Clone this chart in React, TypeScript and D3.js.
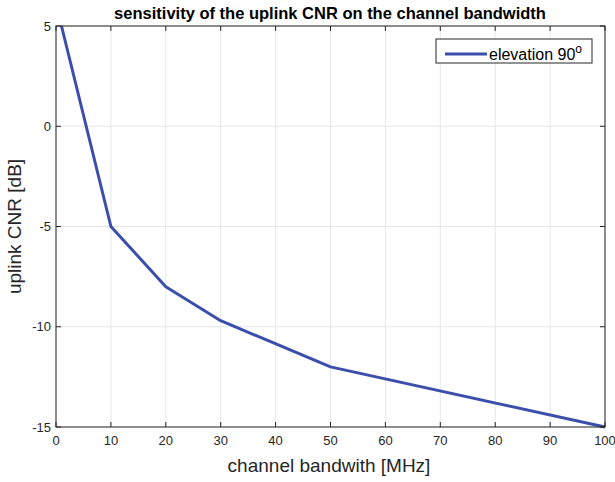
import React from "react";
import * as d3 from "d3";

// Uplink CNR versus channel bandwidth at 90° elevation
const bandwidth = [1, 10, 20, 30, 50, 100];
const cnr = [5, -5, -8, -9.7, -12, -15];
const xTicks = [0, 10, 20, 30, 40, 50, 60, 70, 80, 90, 100];
const yTicks = [-15, -10, -5, 0, 5];

const W = 615;
const H = 482;
const M = { left: 56, right: 605, top: 26, bottom: 427 };
const FONT = "'Liberation Sans', Arial, sans-serif";
const AXIS = "#262626";
const GRID = "#e6e6e6";
const LINE = "#3b4eab";

export default function App() {
  const x = d3.scaleLinear().domain([0, 100]).range([M.left, M.right]);
  const y = d3.scaleLinear().domain([-15, 5]).range([M.bottom, M.top]);
  const pts: [number, number][] = bandwidth.map((b, i) => [b, cnr[i]]);
  const line = d3
    .line<[number, number]>()
    .x((d) => x(d[0]))
    .y((d) => y(d[1]));
  const tk = 5;

  return (
    <svg
      width={W}
      height={H}
      style={{ position: "absolute", left: 0, top: 0, background: "#fff" }}
      fontFamily={FONT}
    >
      <rect x={0} y={0} width={W} height={H} fill="#fff" />
      {/* grid */}
      {xTicks.map((t) => (
        <line key={"gx" + t} x1={x(t)} x2={x(t)} y1={M.top} y2={M.bottom} stroke={GRID} strokeWidth={1} />
      ))}
      {yTicks.map((t) => (
        <line key={"gy" + t} x1={M.left} x2={M.right} y1={y(t)} y2={y(t)} stroke={GRID} strokeWidth={1} />
      ))}
      {/* data */}
      <path d={line(pts) ?? ""} fill="none" stroke={LINE} strokeWidth={3} strokeLinejoin="round" />
      {/* box and ticks */}
      <rect
        x={M.left}
        y={M.top}
        width={M.right - M.left}
        height={M.bottom - M.top}
        fill="none"
        stroke={AXIS}
        strokeWidth={1}
      />
      {xTicks.map((t) => (
        <g key={"tx" + t}>
          <line x1={x(t)} x2={x(t)} y1={M.bottom} y2={M.bottom - tk} stroke={AXIS} />
          <line x1={x(t)} x2={x(t)} y1={M.top} y2={M.top + tk} stroke={AXIS} />
          <text x={x(t)} y={M.bottom + 18} textAnchor="middle" fontSize={13} fill={AXIS}>
            {t}
          </text>
        </g>
      ))}
      {yTicks.map((t) => (
        <g key={"ty" + t}>
          <line x1={M.left} x2={M.left + tk} y1={y(t)} y2={y(t)} stroke={AXIS} />
          <line x1={M.right} x2={M.right - tk} y1={y(t)} y2={y(t)} stroke={AXIS} />
          <text x={M.left - 5} y={y(t) + 4.5} textAnchor="end" fontSize={13} fill={AXIS}>
            {t}
          </text>
        </g>
      ))}
      {/* labels */}
      <text x={330} y={19} textAnchor="middle" fontSize={16.5} fontWeight="bold" fill="#000">
        sensitivity of the uplink CNR on the channel bandwidth
      </text>
      <text x={329} y={472} textAnchor="middle" fontSize={19} fill={AXIS}>
        channel bandwith [MHz]
      </text>
      <text
        transform={`translate(21, ${(M.top + M.bottom) / 2}) rotate(-90)`}
        textAnchor="middle"
        fontSize={19}
        fill={AXIS}
      >
        uplink CNR [dB]
      </text>
      {/* legend */}
      <rect x={436} y={39} width={156} height={24} fill="#fff" stroke={AXIS} strokeWidth={1} />
      <line x1={445} x2={487} y1={54} y2={54} stroke={LINE} strokeWidth={3} />
      <text x={489} y={60} fontSize={16} fill="#000">
        elevation 90
        <tspan fontSize={12} dy={-7}>o</tspan>
      </text>
    </svg>
  );
}
